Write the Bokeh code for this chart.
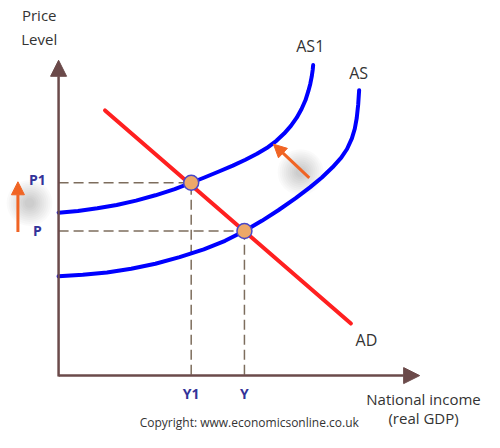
from bokeh.plotting import figure
from bokeh.models import Range1d, Arrow, NormalHead
from bokeh.embed import file_html
from bokeh.resources import INLINE
from bokeh.core.properties import value

# ---- data (chart units: origin at axis corner) ----
as1_x = [0, 20, 40, 60, 80, 100, 120, 137, 150, 165, 180, 193, 205, 215, 225, 233, 240, 246, 251, 255,
         258, 260, 261.5, 262.5, 263]
as1_y = [168, 169.8, 172.5, 176, 180.5, 186, 192.3, 199, 204.2, 210.4, 216.8, 222.8, 229, 235, 242.5, 250,
         258, 266.5, 275.5, 284.5, 294, 301.5, 309, 316, 321]
as_x = [0, 25, 50, 75, 100, 125, 150, 172, 192, 210, 227, 245, 260, 272, 283, 292, 298, 303, 306, 308,
        309.5, 310.5]
as_y = [102, 103.5, 106, 109.8, 115, 121.8, 130, 138.8, 149, 159.5, 170.5, 183, 194.5, 204.5, 215, 225,
        234, 245, 255, 266, 280, 295]
ad_x = [48, 302]
ad_y = [274, 53]
eq_x = [137, 192]
eq_y = [199, 149]
eq_price_labels = ["P1", "P"]
eq_output_labels = ["Y1", "Y"]
curve_labels = ["AS1", "AS", "AD"]
curve_label_x = [260, 310, 318]
curve_label_y = [341, 313, 36]
x_axis_end = 373
y_axis_end = 326

FONT = "Open Sans"
TXT = "#333333"
BLUE_TXT = "#333399"
ORANGE = "#f06424"

p = figure(width=484, height=432, x_range=Range1d(-60, 440), y_range=Range1d(-60, 388),
           x_axis_location=None, y_axis_location=None, toolbar_location=None,
           output_backend="svg", min_border=0)
p.grid.visible = False
p.outline_line_color = None
p.background_fill_color = "white"

# dashed guide lines
for x, y in zip(eq_x, eq_y):
    p.line([0, x], [y, y], line_color="#7d6d5d", line_width=1.5, line_dash="10 5")
    p.line([x, x], [0, y], line_color="#7d6d5d", line_width=1.5, line_dash="10 5")

# axes with arrows
AX = "#6b4a4a"
p.add_layout(Arrow(x_start=0, y_start=-1, x_end=x_axis_end, y_end=-1, line_color=AX, line_width=2.5,
                   end=NormalHead(size=16, fill_color=AX, line_color=AX)))
p.add_layout(Arrow(x_start=0, y_start=-2, x_end=0, y_end=y_axis_end, line_color=AX, line_width=2.5,
                   end=NormalHead(size=16, fill_color=AX, line_color=AX)))

# soft shadows behind the orange arrows
for cx, cy in [(-30, 178), (250, 210)]:
    for k in range(10):
        p.scatter([cx], [cy], size=46 - k * 4, fill_color="#000000", fill_alpha=0.02, line_color=None)

# curves
p.line(as1_x, as1_y, line_color="#0000ff", line_width=4, line_join="round", line_cap="round")
p.line(as_x, as_y, line_color="#0000ff", line_width=4, line_join="round", line_cap="round")
p.line(ad_x, ad_y, line_color="#ff2020", line_width=4, line_cap="round")

# equilibrium points
p.scatter(eq_x, eq_y, size=15, fill_color="#eda868", line_color="#4646c8", line_width=1.5)

p.add_layout(Arrow(x_start=-42, y_start=148, x_end=-42, y_end=200, line_color=ORANGE, line_width=3,
                   end=NormalHead(size=13, fill_color=ORANGE, line_color=ORANGE)))
p.add_layout(Arrow(x_start=259, y_start=204, x_end=222, y_end=239, line_color=ORANGE, line_width=3,
                   end=NormalHead(size=13, fill_color=ORANGE, line_color=ORANGE)))

# labels
p.text([-20, -20], [373, 348], text=["Price", "Level"], text_font=value(FONT), text_font_size="15px",
       text_color=TXT, text_align="center", text_baseline="middle")
p.text([-22, -22], eq_y, text=eq_price_labels, text_font=value(FONT), text_font_size="14px",
       text_font_style="bold", text_color=BLUE_TXT, text_align="center", text_baseline="middle",
       y_offset=[-3, 0])
p.text(eq_x, [-20, -20], text=eq_output_labels, text_font=value(FONT), text_font_size="14px",
       text_font_style="bold", text_color=BLUE_TXT, text_align="center", text_baseline="middle")
p.text(curve_label_x, curve_label_y, text=curve_labels, text_font=value(FONT), text_font_size="16px",
       text_color=TXT, text_align="center", text_baseline="middle")
p.text([377, 377], [-25, -45], text=["National income", "(real GDP)"], text_font=value(FONT),
       text_font_size="15px", text_color=TXT, text_align="center", text_baseline="middle")
p.text([197], [-50], text=["Copyright: www.economicsonline.co.uk"], text_font=value(FONT),
       text_font_size="12px", text_color=TXT, text_align="center", text_baseline="middle")

open("out.html", "w").write(file_html(p, INLINE))
